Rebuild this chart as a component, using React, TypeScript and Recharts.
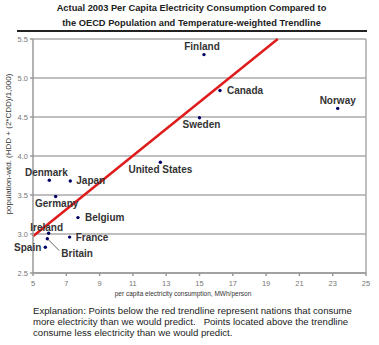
import React from 'react';
import { ScatterChart, Scatter, XAxis, YAxis, CartesianGrid, ReferenceLine } from 'recharts';

const countries = ['Finland', 'Canada', 'Norway', 'Sweden', 'United States', 'Denmark', 'Japan', 'Germany', 'Belgium', 'Ireland', 'France', 'Britain', 'Spain'];
const consumption = [15.27, 16.23, 23.3, 15.0, 12.65, 5.98, 7.24, 6.36, 7.7, 5.94, 7.2, 5.86, 5.74];
const weightedDegreeDays = [5.3, 4.84, 4.61, 4.49, 3.92, 3.69, 3.68, 3.48, 3.21, 3.01, 2.96, 2.94, 2.83];

const trendStart = { x: 5, y: 2.97 };
const trendEnd = { x: 19.7, y: 5.5 };

const xTicks = [5, 7, 9, 11, 13, 15, 17, 19, 21, 23, 25];
const yTicks = [2.5, 3.0, 3.5, 4.0, 4.5, 5.0, 5.5];

// label placement relative to the point: dx, dy, anchor
const labelPlacement: Record<string, { dx: number; dy: number; anchor: 'start' | 'middle' | 'end'; leader?: boolean }> = {
  Finland: { dx: -2, dy: -8, anchor: 'middle' },
  Canada: { dx: 7, dy: 0, anchor: 'start' },
  Norway: { dx: 0, dy: -8, anchor: 'middle' },
  Sweden: { dx: 2, dy: 7, anchor: 'middle' },
  'United States': { dx: 0, dy: 7, anchor: 'middle' },
  Denmark: { dx: -3, dy: -8, anchor: 'middle' },
  Japan: { dx: 6, dy: 0, anchor: 'start' },
  Germany: { dx: 1, dy: 7, anchor: 'middle' },
  Belgium: { dx: 7, dy: 0, anchor: 'start' },
  Ireland: { dx: -2, dy: -6, anchor: 'middle' },
  France: { dx: 6, dy: 0, anchor: 'start' },
  Britain: { dx: 14, dy: 15, anchor: 'start', leader: true },
  Spain: { dx: -4, dy: 0, anchor: 'end' },
};

const data = countries.map((name, i) => ({ name, x: consumption[i], y: weightedDegreeDays[i] }));

const font = 'Arial, "Liberation Sans", sans-serif';

function CountryDot(props: any) {
  const { cx, cy, payload } = props;
  const p = labelPlacement[payload.name];
  return (
    <g>
      {p.leader && (
        <line x1={cx + 1} y1={cy + 1} x2={cx + p.dx - 2} y2={cy + p.dy - 3} stroke="#666" strokeWidth={1} />
      )}
      <circle cx={cx} cy={cy} r={1.7} fill="#000066" />
      <text
        x={cx + p.dx}
        y={cy + p.dy}
        textAnchor={p.anchor}
        dominantBaseline="central"
        fontFamily={font}
        fontWeight="bold"
        fontSize={10}
        fill="#333"
      >
        {payload.name}
      </text>
    </g>
  );
}

export default function App() {
  return (
    <div style={{ position: 'absolute', left: 0, top: 0, width: 379, height: 345, background: '#fff', fontFamily: font }}>
      <div style={{ position: 'absolute', left: 0, top: 1, width: 383, textAlign: 'center', fontSize: 9.3, fontWeight: 'bold', lineHeight: '14.5px', color: '#222' }}>
        Actual 2003 Per Capita Electricity Consumption Compared to
        <br />
        the OECD Population and Temperature-weighted Trendline
      </div>
      <div style={{ position: 'absolute', left: 17, top: 30, width: 350, height: 2, background: '#222' }} />
      <ScatterChart width={379} height={345} margin={{ top: 39, right: 13, bottom: 52, left: 13 }}>
        <CartesianGrid vertical={false} stroke="#aaa" strokeWidth={1.5} />
        <XAxis
          type="number"
          dataKey="x"
          domain={[5, 25]}
          ticks={xTicks}
          height={20}
          stroke="#999"
          strokeWidth={1.5}
          tickSize={3}
          tick={{ fill: '#777', fontSize: 7.5, fontFamily: font }}
          tickMargin={5}
        />
        <YAxis
          type="number"
          dataKey="y"
          domain={[2.5, 5.5]}
          ticks={yTicks}
          width={20}
          stroke="#999"
          strokeWidth={1.5}
          tickSize={3}
          tickMargin={2}
          tickFormatter={(v: number) => v.toFixed(1)}
          tick={{ fill: '#777', fontSize: 7.5, fontFamily: font }}
        />
        <ReferenceLine x={25} stroke="#aaa" strokeWidth={1.5} />
        <ReferenceLine segment={[trendStart, trendEnd]} stroke="#e01b1b" strokeWidth={2.5} />
        <Scatter data={data} shape={CountryDot} isAnimationActive={false} />
      </ScatterChart>
      <div style={{ position: 'absolute', left: 7.5, top: 144, transform: 'translate(-50%, -50%) rotate(-90deg)', whiteSpace: 'nowrap', fontSize: 8, color: '#333' }}>
        population-wtd. (HDD + (2*CDD)/1,000)
      </div>
      <div style={{ position: 'absolute', left: 0, top: 290, width: 366, textAlign: 'center', fontSize: 6.5, color: '#333' }}>
        per capita electricity consumption, MWh/person
      </div>
      <div style={{ position: 'absolute', left: 33, top: 306, width: 346, whiteSpace: 'nowrap', fontSize: 9.6, lineHeight: '10.8px', color: '#222' }}>
        Explanation: Points below the red trendline represent nations that consume
        <br />
        more electricity than we would predict.&nbsp;&nbsp; Points located above the trendline
        <br />
        consume less electricity than we would predict.
      </div>
    </div>
  );
}
